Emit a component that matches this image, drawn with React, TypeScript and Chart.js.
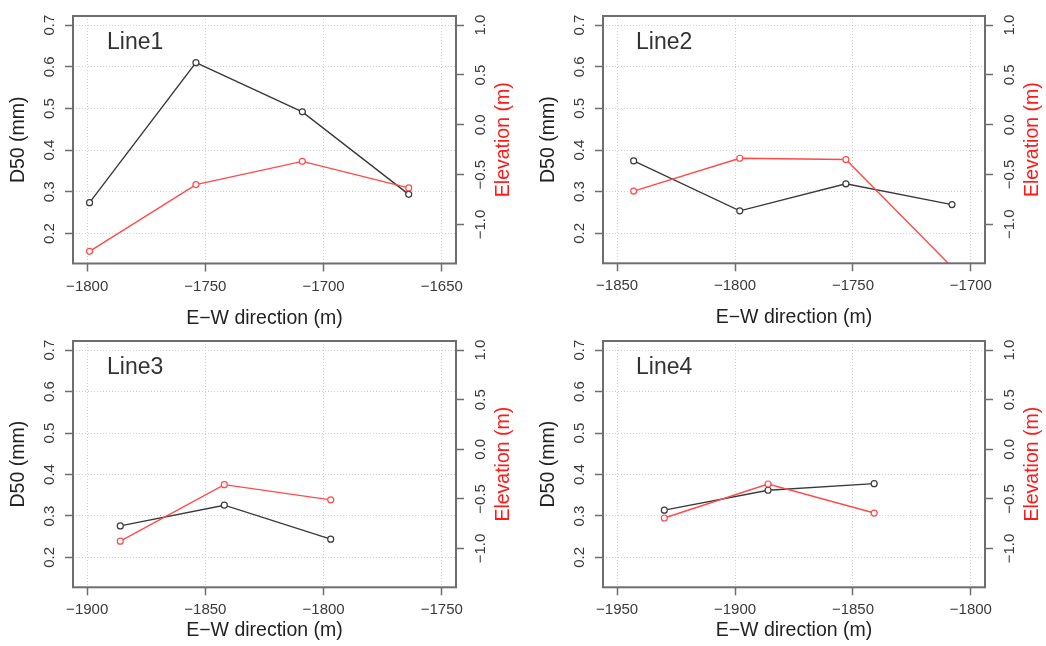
import React, { useEffect, useRef } from "react";
import { Chart, registerables } from "chart.js";

Chart.register(...registerables);

const FAMILY = '"Liberation Sans", Arial, Helvetica, sans-serif';

// ---------- data ----------
const line1X = [-1799, -1754, -1709, -1664];
const line1D50 = [0.274, 0.61, 0.492, 0.294];
const line1Elev = [-1.27, -0.6, -0.367, -0.633];
const line1XLim = [-1800, -1650];
const line1XTicks = [-1800, -1750, -1700, -1650];

const line2X = [-1843, -1798, -1753, -1708];
const line2D50 = [0.374, 0.254, 0.319, 0.269];
const line2Elev = [-0.667, -0.337, -0.35, -1.43];
const line2XLim = [-1850, -1700];
const line2XTicks = [-1850, -1800, -1750, -1700];

const line3X = [-1886, -1842, -1797];
const line3D50 = [0.276, 0.326, 0.244];
const line3Elev = [-0.927, -0.357, -0.51];
const line3XLim = [-1900, -1750];
const line3XTicks = [-1900, -1850, -1800, -1750];

const line4X = [-1930, -1886, -1841];
const line4D50 = [0.314, 0.362, 0.378];
const line4Elev = [-0.693, -0.35, -0.643];
const line4XLim = [-1950, -1800];
const line4XTicks = [-1950, -1900, -1850, -1800];

const d50Lim = [0.15, 0.7];
const d50Ticks = [0.2, 0.3, 0.4, 0.5, 0.6, 0.7];
const elevLim = [-1.3, 1.0];
const elevTicks = [-1.0, -0.5, 0.0, 0.5, 1.0];

const panelNames = ["Line1", "Line2", "Line3", "Line4"];
const xTitle = "E\u2212W direction (m)";
const yTitle = "D50 (mm)";
const y2Title = "Elevation (m)";

// ---------- styles ----------
const BOX = "#6e6e6e";
const GRID = "#d0d0d0";
const TICK_TEXT = "#3a3a3a";
const BLACK_LINE = "#3a3a3a";
const RED_LINE = "#ff4a4a";
const RED_TEXT = "#ff1a1a";

const layouts = [
  { x: 0, y: 0, w: 523, h: 330, top: 16, leftW: 73, rightW: 67, xH: 66.5, xTitleDy: 60, labelDx: 34 },
  { x: 523, y: 0, w: 523, h: 330, top: 16, leftW: 80, rightW: 61, xH: 66.7, xTitleDy: 60, labelDx: 33 },
  { x: 0, y: 325, w: 523, h: 321, top: 16, leftW: 73, rightW: 67, xH: 58.7, xTitleDy: 48.4, labelDx: 34 },
  { x: 523, y: 325, w: 523, h: 321, top: 16, leftW: 80, rightW: 61, xH: 58.7, xTitleDy: 48.4, labelDx: 33 },
];

const series = [
  { x: line1X, d50: line1D50, elev: line1Elev, xlim: line1XLim, xTicks: line1XTicks },
  { x: line2X, d50: line2D50, elev: line2Elev, xlim: line2XLim, xTicks: line2XTicks },
  { x: line3X, d50: line3D50, elev: line3Elev, xlim: line3XLim, xTicks: line3XTicks },
  { x: line4X, d50: line4D50, elev: line4Elev, xlim: line4XLim, xTicks: line4XTicks },
];

const ext = (lim: number[]) => {
  const d = (lim[1] - lim[0]) * 0.04;
  return [lim[0] - d, lim[1] + d];
};

const minus = (s: string) => s.replace("-", "\u2212");

const decoPlugin = {
  id: "deco",
  afterDraw(chart: any, _args: any, opts: any) {
    const { ctx, chartArea: a } = chart;
    ctx.save();
    ctx.strokeStyle = BOX;
    ctx.lineWidth = 2;
    ctx.strokeRect(a.left, a.top, a.right - a.left, a.bottom - a.top);

    ctx.fillStyle = "#333";
    ctx.font = `23px ${FAMILY}`;
    ctx.textAlign = "left";
    ctx.textBaseline = "alphabetic";
    ctx.fillText(opts.label, a.left + opts.labelDx, a.top + 33);

    ctx.font = `19.5px ${FAMILY}`;
    ctx.fillStyle = "#222";
    ctx.textAlign = "center";
    ctx.fillText(opts.xTitle, (a.left + a.right) / 2, a.bottom + opts.xTitleDy);

    const cy = (a.top + a.bottom) / 2;
    ctx.textBaseline = "middle";
    ctx.save();
    ctx.translate(a.left - 54, cy);
    ctx.rotate(-Math.PI / 2);
    ctx.fillText(opts.yTitle, 0, 0);
    ctx.restore();

    ctx.fillStyle = RED_TEXT;
    ctx.save();
    ctx.translate(a.right + 48, cy);
    ctx.rotate(-Math.PI / 2);
    ctx.fillText(opts.y2Title, 0, 0);
    ctx.restore();
    ctx.restore();
  },
};

function makeConfig(idx: number) {
  const s = series[idx];
  const lay = layouts[idx];
  const [xmin, xmax] = ext(s.xlim);
  const [ylmin, ylmax] = ext(d50Lim);
  const [yrmin, yrmax] = ext(elevLim);
  const tickFont = { family: FAMILY, size: 15 };
  const gridBase = {
    color: GRID,
    lineWidth: 1,
    tickColor: BOX,
    tickWidth: 1.5,
    tickLength: 8,
    tickBorderDash: [],
  };
  return {
    type: "line",
    data: {
      datasets: [
        {
          label: y2Title,
          yAxisID: "yR",
          data: s.x.map((x, i) => ({ x, y: s.elev[i] })),
          borderColor: RED_LINE,
          borderWidth: 1.4,
          pointRadius: 3,
          pointBorderWidth: 1.2,
          pointBorderColor: RED_LINE,
          pointBackgroundColor: "#ffffff",
          tension: 0,
          clip: 0,
        },
        {
          label: yTitle,
          yAxisID: "yL",
          data: s.x.map((x, i) => ({ x, y: s.d50[i] })),
          borderColor: BLACK_LINE,
          borderWidth: 1.4,
          pointRadius: 3,
          pointBorderWidth: 1.2,
          pointBorderColor: BLACK_LINE,
          pointBackgroundColor: "#ffffff",
          tension: 0,
          clip: 0,
        },
      ],
    },
    options: {
      responsive: false,
      animation: false,
      events: [],
      layout: { padding: { top: lay.top, left: 0, right: 0, bottom: 0 } },
      plugins: {
        legend: { display: false },
        tooltip: { enabled: false },
        deco: {
          label: panelNames[idx],
          xTitle,
          yTitle,
          y2Title,
          xTitleDy: lay.xTitleDy,
          labelDx: lay.labelDx,
        },
      },
      scales: {
        x: {
          type: "linear",
          position: "bottom",
          min: xmin,
          max: xmax,
          afterBuildTicks: (sc: any) => {
            sc.ticks = s.xTicks.map((v) => ({ value: v }));
          },
          afterFit: (sc: any) => {
            sc.height = lay.xH;
          },
          grid: { ...gridBase },
          border: { display: false, dash: [1, 2] },
          ticks: {
            font: tickFont,
            color: TICK_TEXT,
            padding: 6,
            autoSkip: false,
            maxRotation: 0,
            callback: (v: any) => minus(String(v)),
          },
        },
        yL: {
          type: "linear",
          position: "left",
          min: ylmin,
          max: ylmax,
          afterBuildTicks: (sc: any) => {
            sc.ticks = d50Ticks.map((v) => ({ value: v }));
          },
          afterFit: (sc: any) => {
            sc.width = lay.leftW;
          },
          grid: { ...gridBase },
          border: { display: false, dash: [1, 2] },
          ticks: {
            font: tickFont,
            color: TICK_TEXT,
            padding: 4.6,
            autoSkip: false,
            minRotation: 90,
            maxRotation: 90,
            crossAlign: "center",
            callback: (v: any) => minus(Number(v).toFixed(1)),
          },
        },
        yR: {
          type: "linear",
          position: "right",
          min: yrmin,
          max: yrmax,
          afterBuildTicks: (sc: any) => {
            sc.ticks = elevTicks.map((v) => ({ value: v }));
          },
          afterFit: (sc: any) => {
            sc.width = lay.rightW;
          },
          grid: { ...gridBase, drawOnChartArea: false },
          border: { display: false },
          ticks: {
            font: tickFont,
            color: TICK_TEXT,
            padding: 2.2,
            autoSkip: false,
            minRotation: 90,
            maxRotation: 90,
            crossAlign: "center",
            callback: (v: any) => minus(Number(v).toFixed(1)),
          },
        },
      },
    },
    plugins: [decoPlugin],
  };
}

function Panel({ idx }: { idx: number }) {
  const ref = useRef<HTMLCanvasElement>(null);
  const lay = layouts[idx];
  useEffect(() => {
    if (!ref.current) return;
    const chart = new Chart(ref.current, makeConfig(idx) as any);
    return () => chart.destroy();
  }, [idx]);
  return (
    <canvas
      ref={ref}
      width={lay.w}
      height={lay.h}
      style={{ position: "absolute", left: lay.x, top: lay.y, width: lay.w, height: lay.h }}
    />
  );
}

export default function App() {
  return (
    <div style={{ position: "fixed", left: 0, top: 0, width: 1046, height: 646, background: "#fff" }}>
      {[0, 1, 2, 3].map((i) => (
        <Panel key={i} idx={i} />
      ))}
    </div>
  );
}
